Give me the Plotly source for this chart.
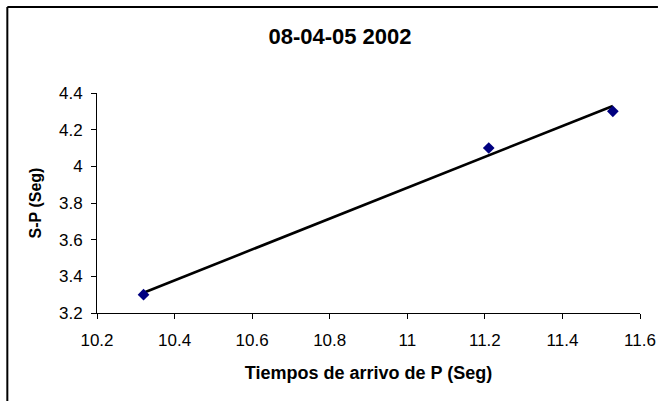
import numpy as np
import plotly.graph_objects as go

# Arrival times of P (s) and S-P interval (s)
tiempos_p = [10.32, 11.21, 11.53]
s_menos_p = [3.3, 4.1, 4.3]

x_ticks = [10.2, 10.4, 10.6, 10.8, 11.0, 11.2, 11.4, 11.6]
x_tick_text = ["10.2", "10.4", "10.6", "10.8", "11", "11.2", "11.4", "11.6"]
y_ticks = [3.2, 3.4, 3.6, 3.8, 4.0, 4.2, 4.4]
y_tick_text = ["3.2", "3.4", "3.6", "3.8", "4", "4.2", "4.4"]

# Least-squares linear trendline over the data span
slope, intercept = np.polyfit(tiempos_p, s_menos_p, 1)
trend_x = [min(tiempos_p), max(tiempos_p)]
trend_y = [slope * v + intercept for v in trend_x]

W, H = 668, 401
ml, mr, mt, mb = 97, 26, 93, 88
pw, ph = W - ml - mr, H - mt - mb

FONT = "Liberation Sans, Arial, sans-serif"

fig = go.Figure()
fig.add_trace(go.Scatter(
    x=trend_x, y=trend_y, mode="lines",
    line=dict(color="black", width=2.6),
    hoverinfo="skip", showlegend=False,
))
fig.add_trace(go.Scatter(
    x=tiempos_p, y=s_menos_p, mode="markers",
    marker=dict(symbol="diamond", size=9, color="#000080"),
    showlegend=False,
))

axis_common = dict(
    showgrid=False, zeroline=False, showline=True,
    linecolor="black", linewidth=1,
    ticks="outside", ticklen=5, tickcolor="black", tickwidth=1,
    tickfont=dict(family=FONT, size=17, color="black"),
)

# Chart-area frame: left and top edges
left_px, top_px, right_px = 7, 7, 660
fx0 = (left_px - ml) / pw
fx1 = (right_px - ml) / pw
fy0 = (H - mb - H) / ph
fy1 = (H - mb - top_px) / ph
frame = [
    dict(type="line", xref="paper", yref="paper",
         x0=fx0, x1=fx0, y0=fy0, y1=fy1,
         line=dict(color="black", width=2), layer="below"),
    dict(type="line", xref="paper", yref="paper",
         x0=fx0, x1=fx1, y0=fy1, y1=fy1,
         line=dict(color="black", width=2), layer="below"),
]

fig.update_layout(
    width=W, height=H,
    margin=dict(l=ml, r=mr, t=mt, b=mb),
    paper_bgcolor="white", plot_bgcolor="white",
    title=dict(
        text="<b>08-04-05 2002</b>",
        font=dict(family=FONT, size=22, color="black"),
        xref="container", x=340 / W, xanchor="center",
        yref="container", y=1 - 36 / H, yanchor="middle",
    ),
    xaxis=dict(
        range=[10.2, 11.6], tickvals=x_ticks, ticktext=x_tick_text,
        ticklabelstandoff=7,
        title=dict(text="<b>Tiempos de arrivo de P (Seg)</b>",
                   font=dict(family=FONT, size=18, color="black"),
                   standoff=16),
        **axis_common,
    ),
    yaxis=dict(
        range=[3.2, 4.4], tickvals=y_ticks, ticktext=y_tick_text,
        ticklabelstandoff=5,
        title=dict(text="<b>S-P (Seg)</b>",
                   font=dict(family=FONT, size=16, color="black"),
                   standoff=13),
        **axis_common,
    ),
    shapes=frame,
)

fig.write_html("out.html")
